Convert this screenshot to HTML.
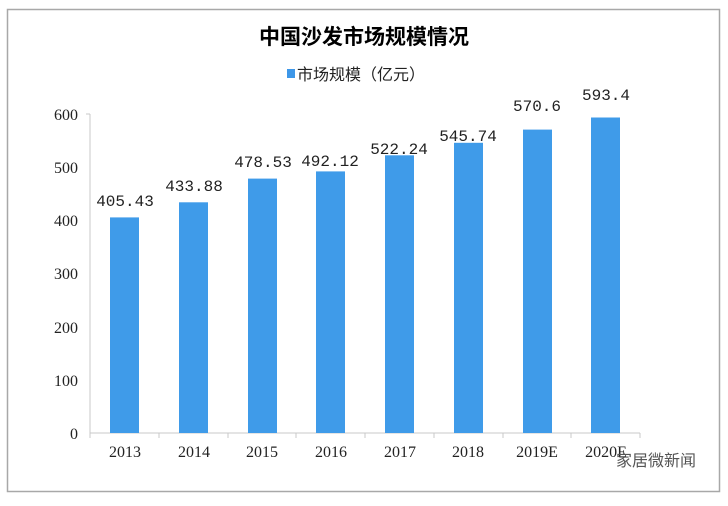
<!DOCTYPE html>
<html><head><meta charset="utf-8"><style>
body{margin:0;background:#fff;}
svg text{font-family:"Liberation Serif","Noto Serif CJK SC",serif;}
svg text.cjk{font-family:"Noto Sans CJK SC",sans-serif;}
svg text.mono{font-family:"Liberation Mono",monospace;}
</style></head><body>
<svg width="728" height="501" xmlns="http://www.w3.org/2000/svg">
<rect x="0" y="0" width="728" height="501" fill="#fff"/>
<rect x="7.5" y="9.5" width="712" height="482" fill="#fff" stroke="#a8a8a8" stroke-width="1.5"/>
<text class="cjk" x="364" y="44" text-anchor="middle" font-size="21" font-weight="bold">中国沙发市场规模情况</text>
<rect x="287" y="69" width="8" height="9" fill="#3d97e8"/>
<text class="cjk" x="297" y="80" font-size="16" fill="#222">市场规模（亿元）</text>
<g stroke="#c8c8c8" stroke-width="1">
<line x1="90" y1="114" x2="90" y2="433"/>
<line x1="86" y1="114" x2="90" y2="114"/>
<line x1="90" y1="433" x2="640" y2="433"/>
</g>
<g font-size="16" fill="#222" text-anchor="end">
<text x="78" y="120">600</text><text x="78" y="173">500</text><text x="78" y="226">400</text>
<text x="78" y="279">300</text><text x="78" y="333">200</text><text x="78" y="386">100</text>
<text x="78" y="439">0</text>
</g>
<g stroke="#c8c8c8">
<line x1="90" y1="433" x2="90" y2="438"/><line x1="159" y1="433" x2="159" y2="438"/><line x1="228" y1="433" x2="228" y2="438"/><line x1="296" y1="433" x2="296" y2="438"/><line x1="365" y1="433" x2="365" y2="438"/><line x1="434" y1="433" x2="434" y2="438"/><line x1="503" y1="433" x2="503" y2="438"/><line x1="571" y1="433" x2="571" y2="438"/><line x1="640" y1="433" x2="640" y2="438"/>
</g>
<g fill="#3f9be9">
<rect x="110" y="217.4" width="29" height="215.6"/>
<rect x="179" y="202.3" width="29" height="230.7"/>
<rect x="248" y="178.6" width="29" height="254.4"/>
<rect x="316" y="171.4" width="29" height="261.6"/>
<rect x="385" y="155.3" width="29" height="277.7"/>
<rect x="454" y="142.8" width="29" height="290.2"/>
<rect x="523" y="129.6" width="29" height="303.4"/>
<rect x="591" y="117.5" width="29" height="315.5"/>
</g>
<g font-size="16" fill="#222" text-anchor="middle">
<text class="mono" x="125" y="206">405.43</text><text class="mono" x="194" y="191">433.88</text><text class="mono" x="263" y="167">478.53</text>
<text class="mono" x="330" y="166">492.12</text><text class="mono" x="399" y="154">522.24</text><text class="mono" x="468" y="141">545.74</text>
<text class="mono" x="537" y="111">570.6</text><text class="mono" x="606" y="100">593.4</text>
</g>
<g font-size="16" fill="#222" text-anchor="middle">
<text x="125" y="457">2013</text><text x="194" y="457">2014</text><text x="262" y="457">2015</text>
<text x="331" y="457">2016</text><text x="400" y="457">2017</text><text x="468" y="457">2018</text>
<text x="537" y="457">2019E</text><text x="606" y="457">2020E</text>
</g>
<text class="cjk" x="616" y="466" font-size="16" fill="#555">家居微新闻</text>
</svg>
</body></html>
